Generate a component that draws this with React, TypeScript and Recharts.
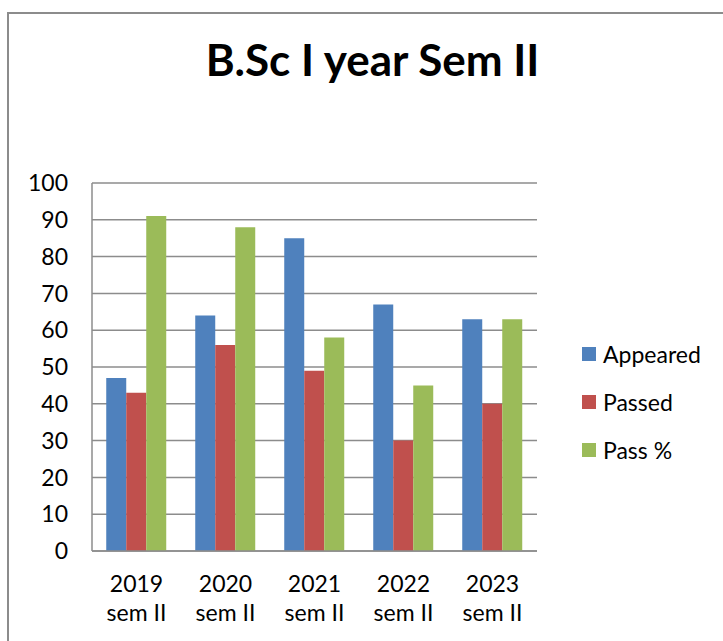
import React from "react";
import { BarChart, Bar, XAxis, YAxis, CartesianGrid } from "recharts";

const years = ["2019", "2020", "2021", "2022", "2023"];
const semester = "sem II";
const appeared = [47, 64, 85, 67, 63];
const passed = [43, 56, 49, 30, 40];
const passPct = [91, 88, 58, 45, 63];
const yTicks = [0, 10, 20, 30, 40, 50, 60, 70, 80, 90, 100];

const series = [
  { key: "Appeared", color: "#4F81BD" },
  { key: "Passed", color: "#C0504D" },
  { key: "Pass %", color: "#9BBB59" },
];

const data = years.map((y, i) => ({
  name: y + " " + semester,
  year: y,
  Appeared: appeared[i],
  Passed: passed[i],
  "Pass %": passPct[i],
}));

const FONT = "Lato, 'Open Sans', sans-serif";

function CategoryTick(props: any) {
  const { x, y, payload } = props;
  const i = data.findIndex((d) => d.name === payload.value);
  return (
    <text x={x} y={y} textAnchor="middle" fontFamily={FONT} fontSize={23} fill="#000">
      <tspan x={x} dy={33}>{data[i]?.year}</tspan>
      <tspan x={x} dy={29}>{semester}</tspan>
    </text>
  );
}

function LegendBox() {
  return (
    <div style={{ position: "absolute", left: 582, top: 330, fontFamily: FONT, fontSize: 23, color: "#000" }}>
      {series.map((s) => (
        <div key={s.key} style={{ display: "flex", alignItems: "center", height: 48 }}>
          <span style={{ display: "inline-block", width: 14, height: 14, background: s.color, marginRight: 7 }} />
          <span>{s.key}</span>
        </div>
      ))}
    </div>
  );
}

export default function App(): JSX.Element {
  return (
    <div style={{ position: "absolute", left: 0, top: 0, width: 723, height: 641, background: "#fff", overflow: "hidden" }}>
      <div style={{ position: "absolute", left: 7, top: 12, width: 740, height: 660, border: "2px solid #8c8c8c" }} />
      <div style={{ position: "absolute", left: 0, top: 33, width: 745, textAlign: "center", fontFamily: FONT, fontWeight: 700, fontSize: 44, color: "#000" }}>
        B.Sc I year Sem II
      </div>
      <div style={{ position: "absolute", left: 0, top: 0 }}>
        <BarChart
          width={723}
          height={641}
          data={data}
          margin={{ top: 183, right: 186, left: 0, bottom: 60 }}
          barCategoryGap="16%"
          barGap={0}
        >
          <CartesianGrid vertical={false} stroke="#8c8c8c" strokeWidth={1.5} />
          <XAxis
            dataKey="name"
            tick={<CategoryTick />}
            tickLine={false}
            axisLine={{ stroke: "#8c8c8c", strokeWidth: 1.5 }}
            interval={0}
          />
          <YAxis
            width={92}
            domain={[0, 100]}
            ticks={yTicks}
            interval={0}
            tickLine={false}
            tickSize={0}
            tickMargin={24}
            axisLine={{ stroke: "#8c8c8c", strokeWidth: 1.5 }}
            tick={{ fontFamily: FONT, fontSize: 23, fill: "#000" }}
          />
          {series.map((s) => (
            <Bar key={s.key} dataKey={s.key} fill={s.color} isAnimationActive={false} />
          ))}
        </BarChart>
      </div>
      <LegendBox />
    </div>
  );
}
